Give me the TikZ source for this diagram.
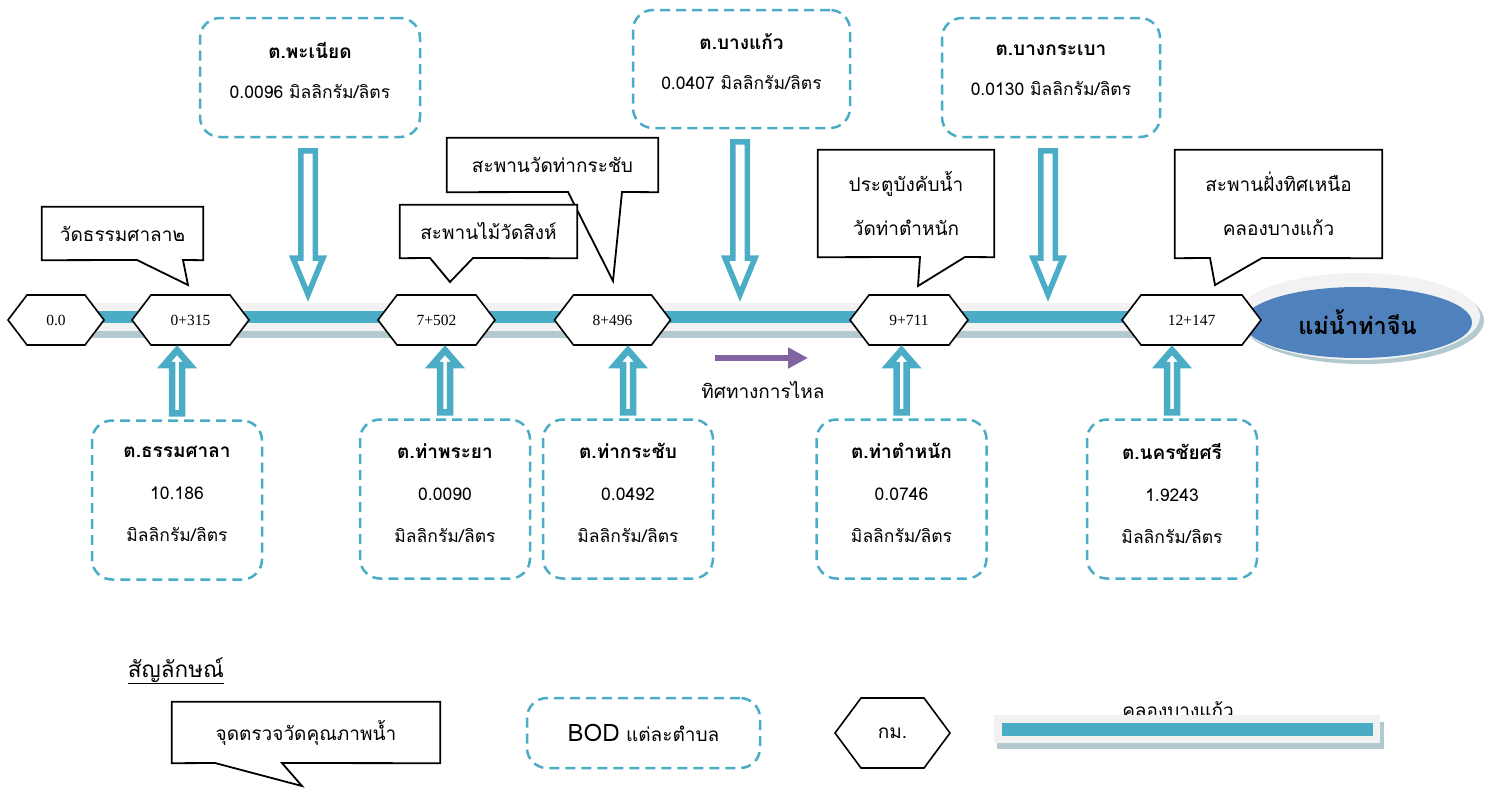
\documentclass[tikz,border=0pt]{standalone}
\usepackage{fontspec}
\newfontfamily\thai[Script=Thai]{Loma}
\newfontfamily\tnr{Liberation Serif}
\usetikzlibrary{calc,arrows.meta,shapes.geometric}
\pgfdeclarelayer{bg}
\pgfsetlayers{bg,main}
\definecolor{teal1}{HTML}{4BACC6}
\definecolor{blue1}{HTML}{4F81BD}
\definecolor{purp}{HTML}{8064A2}
\definecolor{band}{HTML}{F2F2F2}
\definecolor{shad}{HTML}{B3C9D0}
\tikzset{
  dbox/.style={draw=teal1, line width=2.5pt, dash pattern=on 10pt off 6pt, rounded corners=20pt, fill=white, align=center, inner sep=0pt},
  dtxt/.style={align=center, inner sep=0pt, font=\thai\fontsize{17.5}{40}\selectfont},
  dbtxt/.style={align=center, inner sep=0pt, font=\thai\fontsize{17.5}{42}\selectfont},
  dbot/.style={dbox, minimum width=170pt, minimum height=159pt},
  cotext/.style={align=center, inner sep=0pt, font=\thai\fontsize{19}{44}\selectfont},
  cobox/.style={draw=black, line width=1.8pt, fill=white, line join=miter},
  hexline/.style={draw=black, line width=1.6pt, fill=white, line join=miter},
  kmt/.style={inner sep=0pt, font=\tnr\fontsize{15.5}{18}\selectfont},
  uparrow/.style={draw=teal1, fill=white, line width=6.5pt, line join=miter},
  downarrow/.style={draw=teal1, fill=white, line width=5.5pt, line join=miter},
}
\newcommand\ttl[1]{{\fontsize{19}{40}\selectfont\bfseries #1}}
% name, cx, cy, halfwidth, halfheight, inset, text
\newcommand\kmhex[7]{%
  \path[hexline] ({#2-#4},#3) -- ({#2-#4+#6},{#3-#5}) -- ({#2+#4-#6},{#3-#5}) -- ({#2+#4},#3) -- ({#2+#4-#6},{#3+#5}) -- ({#2-#4+#6},{#3+#5}) -- cycle;
  \node[kmt, minimum width={2*#4pt}, minimum height={2*#5pt}] (#1) at (#2,#3) {#7};}
\newcommand\uparr[2]{%
  \draw[uparrow] let \p1=(#1.north), \p2=(#2.south) in
  (\x1-5pt,\y1+6pt) -- (\x1-5pt,\y2-20pt) -- (\x1-13pt,\y2-20pt) -- (\x1,\y2-5pt) -- (\x1+13pt,\y2-20pt) -- (\x1+5pt,\y2-20pt) -- (\x1+5pt,\y1+6pt) -- cycle;}
\newcommand\downarr[2]{%
  \draw[downarrow] let \p1=(#1.south), \p2=(#2) in
  (\x2-7.25pt,\y1-12.5pt) -- (\x2-7.25pt,\y2+45pt) -- (\x2-15pt,\y2+45pt) -- (\x2,\y2+8.5pt) -- (\x2+15pt,\y2+45pt) -- (\x2+7.25pt,\y2+45pt) -- (\x2+7.25pt,\y1-12.5pt) -- cycle;}
\begin{document}
\begin{tikzpicture}[x=1pt,y=-1pt]
\useasboundingbox (0,0) rectangle (1488,787);
% river
\fill[band] (15,303) rectangle (1250,331);
\fill[shad] (20,331) rectangle (1250,338);
\fill[teal1] (15,311) rectangle (1250,323);
% mouth ellipse
\fill[shad] (1362.5,320.5) ellipse [x radius=121.5, y radius=43.5];
\fill[band] (1358.5,316.5) ellipse [x radius=121.5, y radius=43.5];
\node[ellipse, fill=blue1, minimum width=229pt, minimum height=71pt, inner sep=0pt, font=\thai\bfseries\fontsize{23.5}{30}\selectfont] (mae) at (1357.5,322.5) {แม่น้ำท่าจีน};
% km hexagons
\kmhex{h0}{56}{320}{48}{25}{19}{0.0}
\kmhex{h1}{190.5}{320}{58.5}{25}{19}{0+315}
\kmhex{h2}{436.5}{320}{58.5}{25}{19}{7+502}
\kmhex{h3}{612.5}{320}{58}{25}{19}{8+496}
\kmhex{h4}{909}{320}{59}{25}{19}{9+711}
\kmhex{h5}{1191.5}{320}{69.5}{25}{19}{12+147}
% river points for down arrows
\coordinate (r1) at (308,303);
\coordinate (r2) at (740,303);
\coordinate (r3) at (1048,303);
% top BOD boxes
\node[dbox, minimum width=220pt, minimum height=119pt] (t1) at (310,77.5) {};
\node[dtxt] (t1x) at (310,70) {\ttl{ต.พะเนียด}\\0.0096 มิลลิกรัม/ลิตร};
\node[dbox, minimum width=217pt, minimum height=118pt] (t2) at (741.5,69) {};
\node[dtxt] (t2x) at (741.5,62) {\ttl{ต.บางแก้ว}\\0.0407 มิลลิกรัม/ลิตร};
\node[dbox, minimum width=218pt, minimum height=119pt] (t3) at (1051,77.5) {};
\node[dtxt] (t3x) at (1051,70) {\ttl{ต.บางกระเบา}\\0.0130 มิลลิกรัม/ลิตร};
\downarr{t1}{r1}
\downarr{t2}{r2}
\downarr{t3}{r3}
% bottom BOD boxes
\node[dbot] (b1) at (177,500) {};
\node[dbtxt] (b1x) at (177,494) {\ttl{ต.ธรรมศาลา}\\10.186\\มิลลิกรัม/ลิตร};
\node[dbot] (b2) at (445,499) {};
\node[dbtxt] (b2x) at (445,493) {\ttl{ต.ท่าพระยา}\\0.0090\\มิลลิกรัม/ลิตร};
\node[dbot] (b3) at (628,499) {};
\node[dbtxt] (b3x) at (628,493) {\ttl{ต.ท่ากระชับ}\\0.0492\\มิลลิกรัม/ลิตร};
\node[dbot] (b4) at (901.5,499) {};
\node[dbtxt] (b4x) at (901.5,493) {\ttl{ต.ท่าตำหนัก}\\0.0746\\มิลลิกรัม/ลิตร};
\node[dbot] (b5) at (1172,499) {};
\node[dbtxt] (b5x) at (1172,493) {\ttl{ต.นครชัยศรี}\\1.9243\\มิลลิกรัม/ลิตร};
\uparr{b1}{h1}
\uparr{b2}{h2}
\uparr{b3}{h3}
\uparr{b4}{h4}
\uparr{b5}{h5}
% callouts
\node[cotext, minimum width=161pt, minimum height=53pt] (c1) at (122.5,233.5) {วัดธรรมศาลา๒};
\node[cotext, minimum width=211pt, minimum height=54pt] (c3) at (552.5,165) {สะพานวัดท่ากระชับ};
\node[cotext, minimum width=177pt, minimum height=53pt] (c2) at (488.5,231.5) {สะพานไม้วัดสิงห์};
\node[cotext, minimum width=176pt, minimum height=107pt] (c4) at (906,203.5) {ประตูบังคับน้ำ\\วัดท่าตำหนัก};
\node[cotext, minimum width=207pt, minimum height=108pt] (c5) at (1278.5,204) {สะพานฝั่งทิศเหนือ\\คลองบางแก้ว};
\begin{pgfonlayer}{bg}
\draw[cobox] (c1.north west) -- (c1.north east) -- (c1.south east) -- (183,260) -- (188,285) -- (137,260) -- (c1.south west) -- cycle;
\draw[cobox] (c3.north west) -- (c3.north east) -- (c3.south east) -- (622,192) -- (613,281) -- (568,192) -- (c3.south west) -- cycle;
\draw[cobox] (c2.north west) -- (c2.north east) -- (c2.south east) -- (473,258) -- (450,282) -- (430,258) -- (c2.south west) -- cycle;
\draw[cobox] (c4.north west) -- (c4.north east) -- (c4.south east) -- (965,257) -- (918,286) -- (920,257) -- (c4.south west) -- cycle;
\draw[cobox] (c5.north west) -- (c5.north east) -- (c5.south east) -- (1262,258) -- (1215,285) -- (1210,258) -- (c5.south west) -- cycle;
\end{pgfonlayer}
% flow direction
\coordinate (f1) at (715,358);
\coordinate (f2) at (808,358);
\draw[purp, line width=6pt, -{Triangle[length=20pt,width=20pt]}] (f1) -- (f2);
\node[cotext] (flow) at (763,390) {ทิศทางการไหล};
% legend
\node[cotext, anchor=base, font=\thai\fontsize{22.5}{26}\selectfont] (sym) at (176,677) {\underline{สัญลักษณ์}};
\node[cotext, minimum width=268pt, minimum height=61pt] (lc) at (306,732.5) {จุดตรวจวัดคุณภาพน้ำ};
\begin{pgfonlayer}{bg}
\draw[cobox] (lc.north west) -- (lc.north east) -- (lc.south east) -- (282,763) -- (302,786) -- (215,763) -- (lc.south west) -- cycle;
\end{pgfonlayer}
\node[dbox, minimum width=233pt, minimum height=70pt, font=\thai\fontsize{19}{24}\selectfont] (lb) at (643.5,733) {{\fontsize{24}{28}\selectfont BOD} แต่ละตำบล};
\path[hexline] (835,733) -- (861,698) -- (924,698) -- (950,733) -- (924,768) -- (861,768) -- cycle;
\node[cotext, minimum width=115pt, minimum height=70pt] (lh) at (892.5,733) {กม.};
\node[cotext, anchor=base] (lr) at (1178,717) {คลองบางแก้ว};
\fill[shad] (997,722) rectangle (1384,749);
\fill[band] (994,715) rectangle (1380,743);
\fill[teal1] (1002,723) rectangle (1373,736);
\end{tikzpicture}
\end{document}
